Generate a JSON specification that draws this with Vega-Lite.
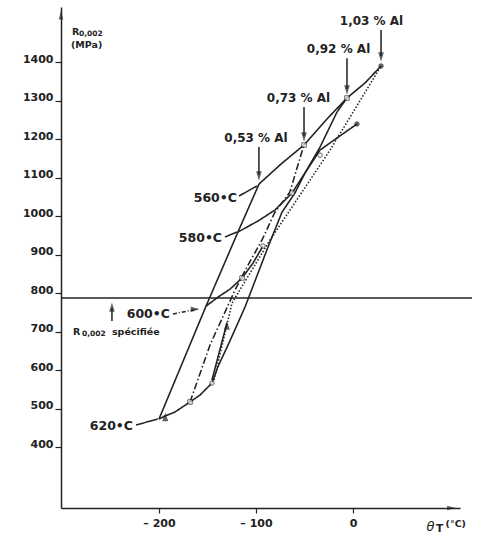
{
  "$schema": "https://vega.github.io/schema/vega-lite/v6.json",
  "width": 399,
  "height": 501,
  "autosize": {"type": "none"},
  "padding": {"left": 61, "top": 7, "right": 17, "bottom": 27},
  "background": "white",
  "config": {
    "view": {"stroke": null},
    "font": "DejaVu Sans",
    "axis": {
      "grid": false,
      "title": null,
      "domainColor": "#222",
      "domainWidth": 1.5,
      "tickColor": "#222",
      "tickWidth": 1.2,
      "tickSize": 5,
      "labelFont": "DejaVu Sans",
      "labelFontWeight": "bold",
      "labelFontSize": 11,
      "labelColor": "#222",
      "labelFlush": false,
      "labelOverlap": false
    }
  },
  "resolve": {"scale": {"shape": "independent", "size": "independent", "fill": "independent", "strokeDash": "independent", "strokeWidth": "independent"}},
  "datasets": {
    "lines": [
      {"s": "t560", "o": 1, "x": -96.9, "y": 1083},
      {"s": "t560", "o": 2, "x": -74.2, "y": 1135},
      {"s": "t560", "o": 3, "x": -50.5, "y": 1184.4},
      {"s": "t560", "o": 4, "x": -27.8, "y": 1249.4},
      {"s": "t560", "o": 5, "x": -6.2, "y": 1306.5},
      {"s": "t560", "o": 6, "x": 12.4, "y": 1345.5},
      {"s": "t560", "o": 7, "x": 28.9, "y": 1389.6},
      {"s": "t580", "o": 1, "x": -118.6, "y": 958.4},
      {"s": "t580", "o": 2, "x": -97.9, "y": 987},
      {"s": "t580", "o": 3, "x": -80.4, "y": 1015.6},
      {"s": "t580", "o": 4, "x": -62.9, "y": 1059.7},
      {"s": "t580", "o": 5, "x": -49.5, "y": 1111.7},
      {"s": "t580", "o": 6, "x": -34, "y": 1171.4},
      {"s": "t580", "o": 7, "x": -16.5, "y": 1202.6},
      {"s": "t580", "o": 8, "x": 4.1, "y": 1239},
      {"s": "t600", "o": 1, "x": -151.5, "y": 766},
      {"s": "t600", "o": 2, "x": -139, "y": 789.6},
      {"s": "t600", "o": 3, "x": -126.8, "y": 810},
      {"s": "t600", "o": 4, "x": -114.4, "y": 839},
      {"s": "t600", "o": 5, "x": -103, "y": 878},
      {"s": "t600", "o": 6, "x": -92.8, "y": 922},
      {"s": "t620", "o": 1, "x": -200, "y": 472.7},
      {"s": "t620", "o": 2, "x": -193.8, "y": 480.5},
      {"s": "t620", "o": 3, "x": -183.5, "y": 491},
      {"s": "t620", "o": 4, "x": -168, "y": 517},
      {"s": "t620", "o": 5, "x": -157.7, "y": 535},
      {"s": "t620", "o": 6, "x": -145.4, "y": 566},
      {"s": "a053", "o": 1, "x": -200, "y": 472.7},
      {"s": "a053", "o": 2, "x": -151.5, "y": 766},
      {"s": "a053", "o": 3, "x": -118.6, "y": 958.4},
      {"s": "a053", "o": 4, "x": -96.9, "y": 1083},
      {"s": "a073", "o": 1, "x": -168, "y": 516.9},
      {"s": "a073", "o": 2, "x": -147.4, "y": 665},
      {"s": "a073", "o": 3, "x": -121.6, "y": 807.8},
      {"s": "a073", "o": 4, "x": -108.2, "y": 872.7},
      {"s": "a073", "o": 5, "x": -93.8, "y": 937.7},
      {"s": "a073", "o": 6, "x": -80.4, "y": 1010.4},
      {"s": "a073", "o": 7, "x": -65, "y": 1062.3},
      {"s": "a073", "o": 8, "x": -57.7, "y": 1124.7},
      {"s": "a073", "o": 9, "x": -50.5, "y": 1184.4},
      {"s": "a092", "o": 1, "x": -145.4, "y": 566},
      {"s": "a092", "o": 2, "x": -139, "y": 610},
      {"s": "a092", "o": 3, "x": -127.5, "y": 672},
      {"s": "a092", "o": 4, "x": -111.3, "y": 763.6},
      {"s": "a092", "o": 5, "x": -87.6, "y": 919.5},
      {"s": "a092", "o": 6, "x": -73.2, "y": 1010},
      {"s": "a092", "o": 7, "x": -59.8, "y": 1060},
      {"s": "a092", "o": 8, "x": -49.5, "y": 1111.7},
      {"s": "a092", "o": 9, "x": -34, "y": 1179},
      {"s": "a092", "o": 10, "x": -16.5, "y": 1270},
      {"s": "a092", "o": 11, "x": -6.2, "y": 1306.5},
      {"s": "a103", "o": 1, "x": -143.3, "y": 574},
      {"s": "a103", "o": 2, "x": -124.7, "y": 774},
      {"s": "a103", "o": 3, "x": -85.6, "y": 937.7},
      {"s": "a103", "o": 4, "x": -54.6, "y": 1054.5},
      {"s": "a103", "o": 5, "x": -23.7, "y": 1171},
      {"s": "a103", "o": 6, "x": 28.9, "y": 1389.6},
      {"s": "seg", "o": 1, "x": -145.4, "y": 574},
      {"s": "seg", "o": 2, "x": -130, "y": 722},
      {"s": "p560", "o": 1, "x": -117.5, "y": 1052},
      {"s": "p560", "o": 2, "x": -99, "y": 1078},
      {"s": "p580", "o": 1, "x": -132, "y": 945.5},
      {"s": "p580", "o": 2, "x": -119.6, "y": 958.4},
      {"s": "p600", "o": 1, "x": -185.6, "y": 745.5},
      {"s": "p600", "o": 2, "x": -159.8, "y": 758.4},
      {"s": "p620", "o": 1, "x": -223.7, "y": 457},
      {"s": "p620", "o": 2, "x": -201, "y": 473},
      {"s": "s103", "o": 1, "x": 28.9, "y": 1483},
      {"s": "s103", "o": 2, "x": 28.9, "y": 1415},
      {"s": "s092", "o": 1, "x": -6.2, "y": 1410},
      {"s": "s092", "o": 2, "x": -6.2, "y": 1330},
      {"s": "s073", "o": 1, "x": -50.5, "y": 1283},
      {"s": "s073", "o": 2, "x": -50.5, "y": 1208},
      {"s": "s053", "o": 1, "x": -97, "y": 1179},
      {"s": "s053", "o": 2, "x": -97, "y": 1107},
      {"s": "sspec", "o": 1, "x": -248.5, "y": 727},
      {"s": "sspec", "o": 2, "x": -248.5, "y": 762}
    ],
    "markers": [
      {"k": "dot", "x": 28.9, "y": 1389.6},
      {"k": "dot", "x": 4.1, "y": 1239},
      {"k": "sq", "x": -6.2, "y": 1306.5},
      {"k": "sq", "x": -50.5, "y": 1184.4},
      {"k": "sq", "x": -62.9, "y": 1059.7},
      {"k": "sq", "x": -114.4, "y": 839},
      {"k": "sq", "x": -168, "y": 517},
      {"k": "ci", "x": -34, "y": 1158},
      {"k": "ci", "x": -92.8, "y": 922},
      {"k": "ci", "x": -145.4, "y": 566}
    ],
    "heads": [
      {"k": "down", "x": 28.9, "y": 1413},
      {"k": "down", "x": -6.2, "y": 1327},
      {"k": "down", "x": -50.5, "y": 1205},
      {"k": "down", "x": -97, "y": 1104},
      {"k": "up", "x": -248.5, "y": 763.6},
      {"k": "axisy", "x": -301.03, "y": 1522},
      {"k": "axisx", "x": 101.5, "y": 241.56},
      {"k": "tiny", "x": -130, "y": 716},
      {"k": "tiny", "x": -193.5, "y": 478},
      {"k": "tinyr", "x": -163, "y": 757.5}
    ],
    "spec": [{"x": -301.03, "x2": 122.7, "y": 787}],
    "texts_c": [
      {"t": "1,03 % Al", "x": 19.1, "y": 1496},
      {"t": "0,92 % Al", "x": -14.9, "y": 1423},
      {"t": "0,73 % Al", "x": -56.2, "y": 1296},
      {"t": "0,53 % Al", "x": -100, "y": 1192}
    ],
    "texts_r": [
      {"t": "560•C", "x": -119.6, "y": 1036},
      {"t": "580•C", "x": -135, "y": 932.5},
      {"t": "600•C", "x": -188.7, "y": 735},
      {"t": "620•C", "x": -226.8, "y": 444}
    ],
    "texts_l": [
      {"t": "R", "x": -289.7, "y": 1470},
      {"t": "(MPa)", "x": -290.7, "y": 1436},
      {"t": "R", "x": -288.7, "y": 691},
      {"t": "spécifiée", "x": -248.5, "y": 691}
    ],
    "texts_sub": [
      {"t": "0,002", "x": -282.5, "y": 1467.5},
      {"t": "0,002", "x": -279.4, "y": 688.3}
    ],
    "texts_ax": [
      {"t": "T", "x": 85.6, "y": 179.2}
    ],
    "texts_ax2": [
      {"t": "(°C)", "x": 95.4, "y": 192.2}
    ],
    "theta": [{"t": "θ", "x": 75.8, "y": 181.5}]
  },
  "encoding": {
    "x": {
      "field": "x",
      "type": "quantitative",
      "scale": {"domain": [-301.03, 110.31], "nice": false, "zero": false},
      "axis": {
        "values": [-200, -100, 0],
        "labelExpr": "datum.value < 0 ? '– ' + abs(datum.value) : '' + datum.value",
        "labelPadding": 4
      }
    },
    "y": {
      "field": "y",
      "type": "quantitative",
      "scale": {"domain": [241.56, 1542.86], "nice": false, "zero": false},
      "axis": {
        "values": [400, 500, 600, 700, 800, 900, 1000, 1100, 1200, 1300, 1400],
        "format": "d",
        "labelBaseline": "alphabetic",
        "labelPadding": 2,
        "tickSize": 6
      }
    }
  },
  "layer": [
    {
      "data": {"name": "spec"},
      "mark": {"type": "rule", "color": "#222", "strokeWidth": 1.4, "clip": false},
      "encoding": {"x2": {"field": "x2"}}
    },
    {
      "data": {"name": "lines"},
      "mark": {"type": "line", "color": "#222", "clip": false},
      "encoding": {
        "detail": {"field": "s", "type": "nominal"},
        "order": {"field": "o", "type": "quantitative"},
        "strokeDash": {
          "field": "s", "type": "nominal", "legend": null,
          "scale": {
            "domain": ["t560", "t580", "t600", "t620", "a053", "a073", "a092", "a103", "seg", "p560", "p580", "p600", "p620", "s103", "s092", "s073", "s053", "sspec"],
            "range": [[1, 0], [1, 0], [1, 0], [1, 0], [1, 0], [7, 2.5, 1.5, 2.5], [1, 0], [1.5, 1.8], [1, 0], [1, 0], [1, 0], [4, 2, 1, 2], [1, 0], [1, 0], [1, 0], [1, 0], [1, 0], [1, 0]]
          }
        },
        "strokeWidth": {
          "field": "s", "type": "nominal", "legend": null,
          "scale": {
            "domain": ["t560", "t580", "t600", "t620", "a053", "a073", "a092", "a103", "seg", "p560", "p580", "p600", "p620", "s103", "s092", "s073", "s053", "sspec"],
            "range": [1.6, 1.5, 1.4, 1.4, 1.6, 1.5, 1.6, 0.8, 1.4, 1.1, 1.1, 1.1, 1.1, 1.2, 1.2, 1.2, 1.2, 1.1]
          }
        }
      }
    },
    {
      "data": {"name": "markers"},
      "mark": {"type": "point", "filled": true, "stroke": "#222", "strokeWidth": 1, "size": 20, "clip": false},
      "encoding": {
        "shape": {"field": "k", "type": "nominal", "legend": null, "scale": {"domain": ["dot", "sq", "ci"], "range": ["circle", "square", "circle"]}},
        "fill": {"field": "k", "type": "nominal", "legend": null, "scale": {"domain": ["dot", "sq", "ci"], "range": ["#222", "white", "white"]}}
      }
    },
    {
      "data": {"name": "heads"},
      "mark": {"type": "point", "filled": true, "color": "#222", "strokeWidth": 0, "clip": false},
      "encoding": {
        "shape": {"field": "k", "type": "nominal", "legend": null, "scale": {"domain": ["down", "up", "axisy", "axisx", "tiny", "tinyr"], "range": ["M0,1L-0.6,-1L0.6,-1Z", "M0,-1L-0.6,1L0.6,1Z", "M0,-1L-0.5,1L0.5,1Z", "M1,0L-1,-0.5L-1,0.5Z", "M0,-1L-0.7,1L0.7,1Z", "M1,0L-1,-0.7L-1,0.7Z"]}},
        "size": {"field": "k", "type": "nominal", "legend": null, "scale": {"domain": ["down", "up", "axisy", "axisx", "tiny", "tinyr"], "range": [90, 70, 256, 289, 25, 25]}}
      }
    },
    {
      "data": {"name": "texts_c"},
      "mark": {"type": "text", "align": "center", "baseline": "alphabetic", "font": "DejaVu Sans", "fontWeight": "bold", "fontSize": 12, "color": "#222"},
      "encoding": {"text": {"field": "t"}}
    },
    {
      "data": {"name": "texts_r"},
      "mark": {"type": "text", "align": "right", "baseline": "alphabetic", "font": "DejaVu Sans", "fontWeight": "bold", "fontSize": 12.5, "color": "#222"},
      "encoding": {"text": {"field": "t"}}
    },
    {
      "data": {"name": "texts_l"},
      "mark": {"type": "text", "align": "left", "baseline": "alphabetic", "font": "DejaVu Sans", "fontWeight": "bold", "fontSize": 9.5, "color": "#222", "clip": false},
      "encoding": {"text": {"field": "t"}}
    },
    {
      "data": {"name": "texts_sub"},
      "mark": {"type": "text", "align": "left", "baseline": "alphabetic", "font": "DejaVu Sans", "fontWeight": "bold", "fontSize": 7.5, "color": "#222", "clip": false},
      "encoding": {"text": {"field": "t"}}
    },
    {
      "data": {"name": "texts_ax"},
      "mark": {"type": "text", "align": "left", "baseline": "alphabetic", "font": "DejaVu Sans", "fontWeight": "bold", "fontSize": 10.5, "color": "#222", "clip": false},
      "encoding": {"text": {"field": "t"}}
    },
    {
      "data": {"name": "texts_ax2"},
      "mark": {"type": "text", "align": "left", "baseline": "alphabetic", "font": "DejaVu Sans", "fontWeight": "bold", "fontSize": 9.5, "color": "#222", "clip": false},
      "encoding": {"text": {"field": "t"}}
    },
    {
      "data": {"name": "theta"},
      "mark": {"type": "text", "align": "left", "baseline": "alphabetic", "font": "DejaVu Sans", "fontStyle": "italic", "fontSize": 13, "color": "#222", "clip": false},
      "encoding": {"text": {"field": "t"}}
    }
  ]
}
